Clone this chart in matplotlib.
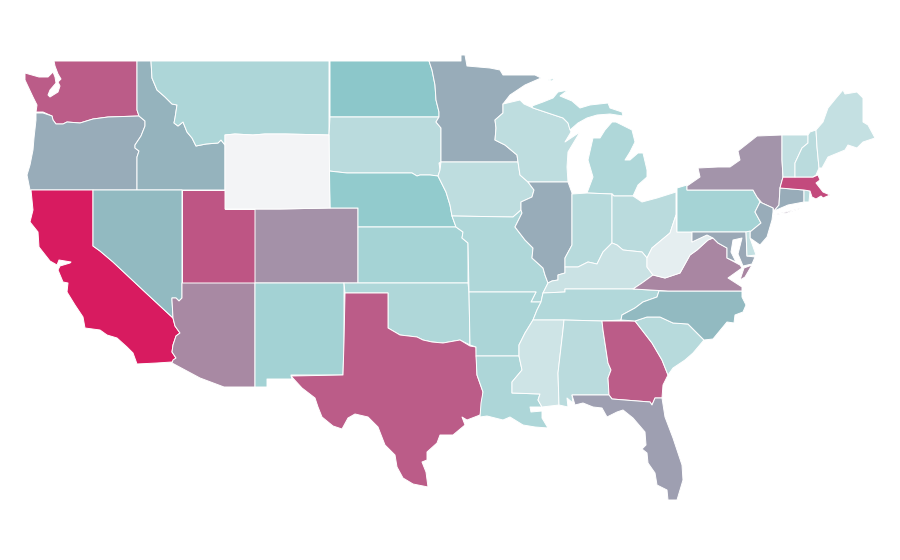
import matplotlib
matplotlib.use("Agg")
import matplotlib.pyplot as plt
from matplotlib.collections import PolyCollection
from matplotlib.colors import LinearSegmentedColormap, Normalize

# colour scale of the map
scale_colors = ['#f3f4f6', '#8cc8ca', '#d81b60']

# value per state, estimated from the fill colours
state_values = {
    'WA': 81, 'OR': 58, 'CA': 100, 'ID': 56, 'NV': 54, 'MT': 34, 'UT': 83, 'AZ': 68,
    'CO': 66, 'NM': 39, 'ND': 50, 'SD': 28, 'NE': 47, 'KS': 38, 'OK': 33, 'TX': 81,
    'MN': 58, 'IA': 26, 'MO': 33, 'AR': 35, 'LA': 34, 'WI': 26, 'IL': 58, 'MI': 33,
    'IN': 29, 'OH': 28, 'KY': 20, 'TN': 32, 'MS': 18, 'AL': 28, 'GA': 81, 'FL': 62,
    'SC': 29, 'NC': 54, 'VA': 69, 'WV': 7, 'PA': 38, 'NY': 65, 'NJ': 58, 'MD': 59,
    'DE': 23, 'CT': 58, 'RI': 28, 'MA': 86, 'VT': 24, 'NH': 28, 'ME': 23, 'WY': 0,
}

# state outlines (x, y in image pixels), one list per land part
outlines = {
    'WA': [[(54,61),(137,61),(137,110),(139,116),(108,117),(93,119),(80,123),(67,122),(63,124),(56,124),(53,120),(52,116),(43,112),(36,112),(37,105),(33,97),(25,80),(25,73),(39,77),(48,77),(53,72),(55,77),(56,83),(50,90),(48,95),(50,97),(58,92),(60,86),(58,82),(61,79),(58,74),(55,66)]],
    'OR': [[(36,113),(43,113),(52,116),(53,120),(56,124),(63,124),(67,122),(80,123),(93,119),(108,117),(139,116),(145,121),(145,126),(141,136),(135,145),(135,148),(139,151),(137,157),(137,190),(30,190),(27,175),(30,165),(33,150),(34,138),(36,120)]],
    'CA': [[(31,190),(93,190),(93,246),(100,251),(113,262),(145,292),(173,318),(175,326),(180,333),(176,336),(173,345),(172,352),(176,358),(172,362),(157,363),(137,364),(133,353),(127,347),(117,338),(107,335),(100,330),(85,328),(83,317),(75,305),(67,292),(68,283),(63,282),(58,270),(60,266),(70,263),(71,262),(59,260),(57,265),(50,261),(39,247),(38,232),(30,222),(33,210)]],
    'ID': [[(137,61),(151,61),(152,78),(157,90),(165,97),(172,104),(177,105),(175,118),(174,123),(178,126),(183,122),(187,132),(192,138),(196,146),(206,144),(218,143),(221,140),(225,145),(225,190),(137,190),(137,157),(139,151),(135,148),(135,145),(141,136),(145,126),(145,121),(139,116),(137,110)]],
    'NV': [[(93,190),(182,190),(182,298),(179,301),(176,298),(172,298),(172,300),(173,318),(145,292),(113,262),(100,251),(93,246)]],
    'MT': [[(151,61),(329,61),(329,135),(285,134),(265,134),(253,135),(235,134),(225,135),(225,145),(221,140),(218,143),(206,144),(196,146),(192,138),(187,132),(183,122),(178,126),(174,123),(175,118),(177,105),(172,104),(165,97),(157,90),(152,78)]],
    'UT': [[(182,190),(225,190),(225,209),(255,209),(255,283),(182,283)]],
    'AZ': [[(182,283),(255,283),(255,387),(224,387),(200,378),(172,363),(173,360),(176,358),(172,352),(173,345),(176,336),(180,333),(175,326),(173,318),(172,300),(172,298),(176,298),(179,301),(182,298)]],
    'CO': [[(255,209),(280,209),(330,208),(358,208),(358,283),(255,283)]],
    'NM': [[(255,283),(344,283),(344,342),(343,375),(291,375),(292,379),(267,379),(267,387),(255,387)]],
    'ND': [[(330,61),(429,61),(432,70),(435,85),(436,100),(439,112),(439,117),(330,117)]],
    'SD': [[(330,117),(439,117),(436,122),(441,128),(441,162),(439,163),(440,170),(438,176),(430,175),(420,175),(417,176),(412,173),(373,173),(347,173),(329,171),(329,135)]],
    'NE': [[(329,171),(347,173),(373,173),(412,173),(417,176),(420,175),(430,175),(438,176),(441,182),(446,192),(450,205),(452,216),(456,227),(358,227),(358,208),(330,208)]],
    'KS': [[(358,227),(456,227),(463,232),(462,238),(468,243),(468,283),(358,283)]],
    'OK': [[(344,283),(468,283),(469,292),(470,345),(460,340),(443,343),(432,342),(423,340),(417,337),(400,335),(388,328),(388,293),(345,293)]],
    'TX': [[(345,293),(388,293),(388,328),(400,335),(417,337),(423,340),(432,342),(443,343),(460,340),(470,346),(476,347),(477,375),(483,392),(481,412),(480,415),(467,420),(462,417),(465,425),(453,435),(440,435),(437,443),(427,452),(427,460),(422,462),(426,472),(428,487),(413,484),(403,478),(397,467),(395,455),(385,445),(378,427),(368,417),(355,414),(348,418),(342,429),(333,426),(322,417),(318,407),(315,398),(302,388),(291,376),(343,375),(344,342)]],
    'MN': [[(429,61),(461,61),(461,55),(465,55),(467,66),(490,68),(500,70),(503,75),(520,75),(535,75),(541,78),(525,85),(510,95),(503,104),(503,113),(495,120),(496,128),(495,140),(505,145),(517,155),(518,162),(441,162),(441,128),(436,122),(439,117),(439,112),(436,100),(435,85),(432,70)]],
    'IA': [[(441,162),(518,162),(520,175),(528,182),(534,190),(532,197),(521,202),(521,210),(513,217),(452,216),(450,205),(446,192),(441,182),(438,176),(440,170)]],
    'MO': [[(452,216),(513,217),(521,210),(522,213),(515,227),(525,240),(533,248),(532,258),(543,268),(545,275),(548,283),(543,293),(541,302),(531,302),(536,292),(469,292),(468,243),(462,238),(463,232),(456,227)]],
    'AR': [[(469,292),(536,292),(531,302),(541,302),(537,310),(533,320),(525,333),(519,345),(519,356),(476,356),(476,347),(470,345)]],
    'LA': [[(476,356),(519,356),(522,370),(512,382),(512,393),(540,394),(538,400),(542,407),(530,407),(531,412),(542,411),(542,418),(548,428),(535,427),(523,425),(510,417),(503,420),(487,416),(480,417),(481,403),(483,392),(477,375)]],
    'WI': [[(503,104),(520,100),(524,104),(533,108),(563,118),(568,123),(571,132),(565,142),(580,132),(568,152),(567,167),(568,182),(528,182),(520,175),(518,162),(517,155),(505,145),(495,140),(496,128),(495,120),(503,113)]],
    'IL': [[(528,182),(568,182),(572,193),(572,245),(565,258),(565,273),(558,275),(558,280),(552,281),(548,283),(545,275),(543,268),(532,258),(533,248),(525,240),(515,227),(522,213),(521,210),(521,202),(532,197),(534,190)]],
    'MI': [[(532,106),(543,102),(553,98),(558,92),(568,90),(560,96),(572,101),(580,108),(590,105),(608,103),(610,108),(622,112),(623,116),(610,114),(597,115),(587,118),(578,123),(570,130),(568,123),(563,118),(533,108)],
           [(612,122),(616,122),(632,130),(635,142),(630,152),(625,160),(630,160),(638,153),(643,153),(647,170),(647,177),(638,185),(633,196),(614,196),(612,194),(587,193),(593,177),(588,160),(593,138),(600,138),(605,130)],
           [(548,80),(555,78),(552,81)]],
    'IN': [[(572,194),(587,193),(612,194),(612,243),(603,252),(597,264),(588,262),(578,267),(565,267),(565,258),(572,245)]],
    'OH': [[(612,194),(614,196),(633,196),(642,202),(657,198),(676,192),(676,215),(670,233),(658,243),(652,248),(647,258),(642,252),(623,250),(617,245),(612,243)]],
    'KY': [[(543,293),(548,283),(552,281),(558,280),(558,275),(565,273),(565,267),(578,267),(588,262),(597,264),(603,252),(612,243),(617,245),(623,250),(642,252),(647,258),(647,267),(653,275),(642,283),(633,289),(565,289),(565,292)]],
    'TN': [[(543,293),(565,292),(565,289),(633,289),(668,291),(659,291),(657,297),(643,302),(635,308),(622,315),(621,320),(602,321),(564,320),(533,320),(537,310),(541,302)]],
    'MS': [[(533,320),(564,320),(563,330),(558,373),(559,405),(542,407),(538,400),(540,394),(512,393),(512,382),(522,370),(519,356),(519,345),(525,333)]],
    'AL': [[(564,320),(602,321),(603,330),(608,363),(611,370),(608,378),(609,395),(572,395),(573,403),(567,398),(568,407),(559,405),(558,373),(563,330)]],
    'GA': [[(602,321),(635,321),(642,330),(652,343),(662,360),(668,375),(663,385),(662,398),(655,398),(652,405),(650,402),(612,399),(609,395),(608,378),(611,370),(608,363),(603,330)]],
    'FL': [[(572,395),(609,395),(612,399),(650,402),(652,405),(655,398),(662,398),(665,417),(673,438),(682,465),(683,480),(677,500),(668,500),(667,490),(657,485),(655,473),(648,463),(647,453),(642,449),(646,445),(645,432),(633,418),(623,410),(617,412),(607,417),(602,408),(593,407),(583,403),(575,405)]],
    'SC': [[(635,321),(647,317),(660,317),(673,323),(688,324),(704,340),(693,353),(685,360),(673,368),(668,375),(662,360),(652,343),(642,330)]],
    'NC': [[(621,320),(622,315),(635,308),(643,302),(657,297),(659,291),(742,291),(742,297),(746,305),(743,312),(735,315),(734,323),(727,322),(713,339),(704,340),(688,324),(673,323),(660,317),(647,317),(635,321)]],
    'VA': [[(633,289),(642,283),(653,275),(665,278),(680,273),(690,255),(697,250),(708,240),(713,238),(718,243),(727,248),(727,258),(740,265),(742,268),(728,278),(742,287),(742,291),(668,291)],
           [(752,265),(744,268),(740,280),(745,277)]],
    'WV': [[(676,215),(677,232),(692,232),(692,242),(707,235),(713,238),(708,240),(697,250),(690,255),(680,273),(665,278),(653,275),(647,267),(647,258),(652,248),(658,243),(670,233)]],
    'PA': [[(677,232),(677,188),(687,185),(687,190),(753,190),(760,202),(755,212),(761,223),(750,232)]],
    'NY': [[(687,190),(687,186),(700,177),(698,168),(718,167),(730,167),(740,160),(738,151),(752,140),(757,136),(782,135),(782,160),(783,177),(780,188),(779,205),(774,211),(773,208),(762,203),(757,197),(753,190)],
           [(773,215),(802,208),(787,213)]],
    'NJ': [[(760,202),(762,203),(773,208),(773,212),(772,220),(767,237),(760,245),(750,238),(750,232),(761,223),(755,212)]],
    'MD': [[(692,232),(746,232),(747,256),(755,257),(752,264),(743,266),(738,254),(742,238),(733,240),(731,252),(736,262),(727,258),(727,248),(718,243),(713,238),(707,235),(692,242)]],
    'DE': [[(746,232),(750,231),(750,238),(756,255),(747,256)]],
    'CT': [[(780,188),(804,190),(804,202),(788,205),(774,211),(779,205)]],
    'RI': [[(804,190),(810,191),(809,202),(804,202)]],
    'MA': [[(780,188),(783,177),(813,177),(818,175),(820,180),(816,183),(823,192),(830,195),(823,198),(821,196),(816,199),(812,197),(810,191),(804,190)]],
    'VT': [[(782,135),(808,135),(808,143),(802,148),(795,163),(795,177),(783,177),(782,160)]],
    'NH': [[(810,132),(816,130),(817,147),(819,168),(816,175),(813,177),(795,177),(795,163),(802,148),(808,143),(808,135)]],
    'ME': [[(816,130),(823,122),(828,108),(837,97),(843,90),(845,94),(857,92),(863,98),(863,122),(868,125),(875,138),(863,142),(857,148),(848,145),(845,150),(828,157),(822,168),(819,168),(817,147)]],
    'WY': [[(225,135),(235,134),(253,135),(265,134),(285,134),(329,135),(330,208),(280,209),(255,209),(225,209)]],
}

cmap = LinearSegmentedColormap.from_list('map_scale', scale_colors)
norm = Normalize(0, 100)

verts = []
values = []
for state, parts in outlines.items():
    for part in parts:
        verts.append(part)
        values.append(state_values[state])

fig = plt.figure(figsize=(9, 5.6), dpi=100)
ax = fig.add_axes([0, 0, 1, 1])

states = PolyCollection(verts, array=values, cmap=cmap, norm=norm,
                        edgecolors='white', linewidths=0.7, antialiaseds=True)
ax.add_collection(states)

ax.set_xlim(0, 900)
ax.set_ylim(560, 0)
ax.axis('off')

fig.savefig('out.png', dpi=100, facecolor='white')
